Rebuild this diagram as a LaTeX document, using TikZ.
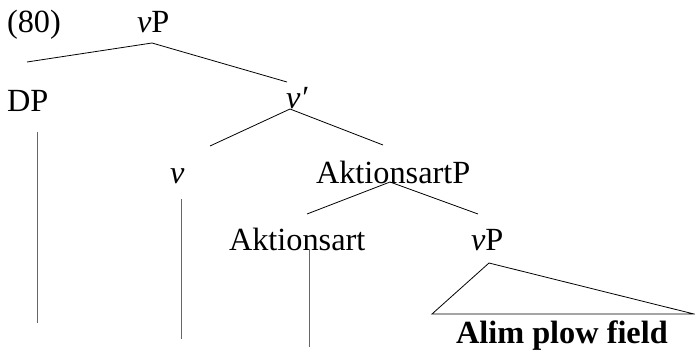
\documentclass[tikz,border=0pt]{standalone}
\usepackage{fontspec}
\setmainfont{Liberation Serif}
\begin{document}
\begin{tikzpicture}[x=1pt,y=-1pt,
  lbl/.style={anchor=base west,inner sep=0pt,outer sep=0pt,font=\fontsize{32.3}{38}\selectfont},
  branch/.style={line width=0.8pt,black},
  stem/.style={line width=0.8pt,black!60}]
\useasboundingbox (0,0) rectangle (695,356);

% labels
\node[lbl] (ex)    at (7,32)    {(80)};
\node[lbl] (vP)    at (137,32)  {\textit{v}P};
\node[lbl] (DP)    at (7,111)   {DP};
\node[lbl] (vbar)  at (286,108) {\textit{v′}};
\node[lbl] (v)     at (170,183) {\textit{v}};
\node[lbl] (AspP)  at (316,183) {AktionsartP};
\node[lbl] (Asp)   at (229,250) {Aktionsart};
\node[lbl] (vPlow) at (471,250) {\textit{v}P};
\node[lbl] (leaf)  at (456,343) {\textbf{Alim plow field}};

% branch end points
\coordinate (vPtop)   at (152,43);
\coordinate (DPtop)   at (27,62);
\coordinate (vbarbot) at (287,82);
\coordinate (vbartop) at (290,109);
\coordinate (vtop)    at (210,146);
\coordinate (AspPbot) at (383,145);
\coordinate (AspPtop) at (390,182);
\coordinate (Asptop)  at (307,214);
\coordinate (vPlowbot) at (478,214);
\coordinate (apex)    at (489,263);
\coordinate (triL)    at (432,314);
\coordinate (triR)    at (694,314);

% stems under terminal heads
\coordinate (DPs1) at (37,132);  \coordinate (DPs2) at (37,323);
\coordinate (vs1)  at (181,199); \coordinate (vs2)  at (181,339);
\coordinate (As1)  at (309,250); \coordinate (As2)  at (309,347);

\draw[branch] (DPtop) -- (vPtop) -- (vbarbot);
\draw[branch] (vtop) -- (vbartop) -- (AspPbot);
\draw[branch] (Asptop) -- (AspPtop) -- (vPlowbot);
\draw[branch] (triL) -- (apex) -- (triR) -- cycle;

\draw[stem] (DPs1) -- (DPs2);
\draw[stem] (vs1) -- (vs2);
\draw[stem] (As1) -- (As2);
\end{tikzpicture}
\end{document}
